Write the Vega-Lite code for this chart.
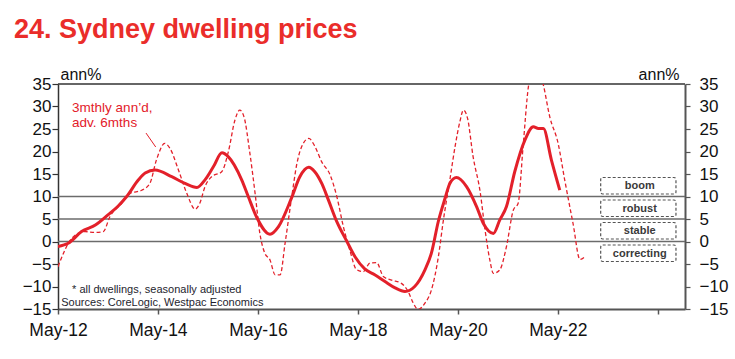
{
  "$schema": "https://vega.github.io/schema/vega-lite/v6.json",
  "width": 627,
  "height": 225,
  "autosize": {"type": "none"},
  "padding": {"left": 58, "top": 84, "right": 50, "bottom": 50},
  "background": "white",
  "config": {"view": {"stroke": null}, "font": "Liberation Sans"},
  "title": {
    "text": "24. Sydney dwelling prices",
    "anchor": "start",
    "frame": "group",
    "font": "Liberation Sans",
    "fontSize": 27,
    "fontWeight": "bold",
    "color": "#ea2d2a",
    "dx": -44,
    "offset": 0,
    "dy": -22
  },
  "datasets": {
    "hlines": [
      {"value": 35, "kind": "frame"},
      {"value": 10, "kind": "ref"},
      {"value": 5, "kind": "ref"},
      {"value": 0, "kind": "ref"}
    ],
    "regimes": [
      {"label": "boom", "lo": 10, "hi": 15},
      {"label": "robust", "lo": 5, "hi": 10},
      {"label": "stable", "lo": 0, "hi": 5},
      {"label": "correcting", "lo": -5, "hi": 0}
    ],
    "prices": [
      {"date": "2012-05-01", "series": "annual", "value": -1.1},
      {"date": "2012-07-15", "series": "annual", "value": -0.4},
      {"date": "2012-10-20", "series": "annual", "value": 2.2},
      {"date": "2013-02-01", "series": "annual", "value": 3.7},
      {"date": "2013-05-01", "series": "annual", "value": 5.9},
      {"date": "2013-07-15", "series": "annual", "value": 7.9},
      {"date": "2013-09-15", "series": "annual", "value": 10.0},
      {"date": "2013-12-10", "series": "annual", "value": 13.7},
      {"date": "2014-01-28", "series": "annual", "value": 15.2},
      {"date": "2014-04-10", "series": "annual", "value": 15.9},
      {"date": "2014-08-10", "series": "annual", "value": 14.4},
      {"date": "2014-11-15", "series": "annual", "value": 12.9},
      {"date": "2015-02-10", "series": "annual", "value": 12.0},
      {"date": "2015-04-10", "series": "annual", "value": 13.7},
      {"date": "2015-06-10", "series": "annual", "value": 16.6},
      {"date": "2015-08-12", "series": "annual", "value": 19.7},
      {"date": "2015-09-28", "series": "annual", "value": 18.8},
      {"date": "2016-01-03", "series": "annual", "value": 13.7},
      {"date": "2016-02-20", "series": "annual", "value": 10.0},
      {"date": "2016-04-20", "series": "annual", "value": 5.5},
      {"date": "2016-07-28", "series": "annual", "value": 1.6},
      {"date": "2016-09-28", "series": "annual", "value": 3.3},
      {"date": "2017-01-03", "series": "annual", "value": 9.8},
      {"date": "2017-03-03", "series": "annual", "value": 14.4},
      {"date": "2017-05-07", "series": "annual", "value": 16.5},
      {"date": "2017-06-20", "series": "annual", "value": 15.5},
      {"date": "2017-08-10", "series": "annual", "value": 12.9},
      {"date": "2017-09-28", "series": "annual", "value": 9.2},
      {"date": "2017-11-28", "series": "annual", "value": 4.4},
      {"date": "2018-02-10", "series": "annual", "value": 0.0},
      {"date": "2018-04-10", "series": "annual", "value": -3.4},
      {"date": "2018-06-20", "series": "annual", "value": -6.1},
      {"date": "2018-09-01", "series": "annual", "value": -7.4},
      {"date": "2018-11-15", "series": "annual", "value": -8.9},
      {"date": "2019-01-28", "series": "annual", "value": -10.3},
      {"date": "2019-04-10", "series": "annual", "value": -11.1},
      {"date": "2019-06-20", "series": "annual", "value": -10.0},
      {"date": "2019-09-03", "series": "annual", "value": -6.3},
      {"date": "2019-10-20", "series": "annual", "value": -2.6},
      {"date": "2019-12-10", "series": "annual", "value": 4.5},
      {"date": "2020-01-28", "series": "annual", "value": 9.6},
      {"date": "2020-03-03", "series": "annual", "value": 12.9},
      {"date": "2020-04-20", "series": "annual", "value": 14.2},
      {"date": "2020-07-03", "series": "annual", "value": 12.2},
      {"date": "2020-09-15", "series": "annual", "value": 7.7},
      {"date": "2020-11-03", "series": "annual", "value": 4.0},
      {"date": "2021-01-15", "series": "annual", "value": 1.8},
      {"date": "2021-03-03", "series": "annual", "value": 4.8},
      {"date": "2021-04-20", "series": "annual", "value": 7.7},
      {"date": "2021-06-20", "series": "annual", "value": 15.5},
      {"date": "2021-09-03", "series": "annual", "value": 22.6},
      {"date": "2021-11-03", "series": "annual", "value": 25.5},
      {"date": "2021-12-10", "series": "annual", "value": 25.1},
      {"date": "2022-01-15", "series": "annual", "value": 25.1},
      {"date": "2022-03-15", "series": "annual", "value": 18.1},
      {"date": "2022-05-15", "series": "annual", "value": 11.4},
      {"date": "2012-05-01", "series": "3m", "value": -5.6},
      {"date": "2012-06-10", "series": "3m", "value": -2.6},
      {"date": "2012-07-15", "series": "3m", "value": -0.4},
      {"date": "2012-09-03", "series": "3m", "value": 1.4},
      {"date": "2012-11-15", "series": "3m", "value": 2.2},
      {"date": "2013-01-28", "series": "3m", "value": 2.0},
      {"date": "2013-03-28", "series": "3m", "value": 2.2},
      {"date": "2013-05-15", "series": "3m", "value": 5.5},
      {"date": "2013-08-10", "series": "3m", "value": 8.5},
      {"date": "2013-10-10", "series": "3m", "value": 10.7},
      {"date": "2014-01-03", "series": "3m", "value": 11.4},
      {"date": "2014-03-03", "series": "3m", "value": 12.9},
      {"date": "2014-04-20", "series": "3m", "value": 18.1},
      {"date": "2014-06-20", "series": "3m", "value": 21.8},
      {"date": "2014-07-28", "series": "3m", "value": 20.7},
      {"date": "2014-09-28", "series": "3m", "value": 15.9},
      {"date": "2014-11-28", "series": "3m", "value": 10.7},
      {"date": "2015-01-28", "series": "3m", "value": 7.2},
      {"date": "2015-03-03", "series": "3m", "value": 8.5},
      {"date": "2015-04-10", "series": "3m", "value": 12.2},
      {"date": "2015-05-28", "series": "3m", "value": 14.4},
      {"date": "2015-08-10", "series": "3m", "value": 15.5},
      {"date": "2015-09-28", "series": "3m", "value": 20.0},
      {"date": "2015-11-15", "series": "3m", "value": 27.0},
      {"date": "2015-12-20", "series": "3m", "value": 29.2},
      {"date": "2016-01-20", "series": "3m", "value": 27.7},
      {"date": "2016-03-03", "series": "3m", "value": 19.6},
      {"date": "2016-04-10", "series": "3m", "value": 10.7},
      {"date": "2016-05-15", "series": "3m", "value": 1.8},
      {"date": "2016-06-20", "series": "3m", "value": -2.6},
      {"date": "2016-07-28", "series": "3m", "value": -4.1},
      {"date": "2016-09-03", "series": "3m", "value": -7.4},
      {"date": "2016-10-10", "series": "3m", "value": -7.4},
      {"date": "2016-11-15", "series": "3m", "value": -0.4},
      {"date": "2017-01-03", "series": "3m", "value": 10.0},
      {"date": "2017-02-10", "series": "3m", "value": 17.4},
      {"date": "2017-03-28", "series": "3m", "value": 21.8},
      {"date": "2017-05-07", "series": "3m", "value": 22.9},
      {"date": "2017-06-20", "series": "3m", "value": 21.2},
      {"date": "2017-08-10", "series": "3m", "value": 17.7},
      {"date": "2017-10-10", "series": "3m", "value": 14.8},
      {"date": "2017-11-28", "series": "3m", "value": 10.0},
      {"date": "2018-01-15", "series": "3m", "value": 3.3},
      {"date": "2018-03-03", "series": "3m", "value": -1.9},
      {"date": "2018-04-20", "series": "3m", "value": -6.2},
      {"date": "2018-06-10", "series": "3m", "value": -6.7},
      {"date": "2018-07-28", "series": "3m", "value": -4.8},
      {"date": "2018-09-15", "series": "3m", "value": -4.7},
      {"date": "2018-11-03", "series": "3m", "value": -7.8},
      {"date": "2019-01-03", "series": "3m", "value": -8.6},
      {"date": "2019-03-15", "series": "3m", "value": -9.3},
      {"date": "2019-05-03", "series": "3m", "value": -11.1},
      {"date": "2019-06-10", "series": "3m", "value": -13.7},
      {"date": "2019-07-15", "series": "3m", "value": -15.1},
      {"date": "2019-09-03", "series": "3m", "value": -13.7},
      {"date": "2019-10-20", "series": "3m", "value": -10.8},
      {"date": "2019-12-10", "series": "3m", "value": -3.4},
      {"date": "2020-01-15", "series": "3m", "value": 4.6},
      {"date": "2020-03-03", "series": "3m", "value": 13.7},
      {"date": "2020-04-10", "series": "3m", "value": 21.1},
      {"date": "2020-05-15", "series": "3m", "value": 26.6},
      {"date": "2020-06-10", "series": "3m", "value": 29.2},
      {"date": "2020-07-10", "series": "3m", "value": 27.4},
      {"date": "2020-08-20", "series": "3m", "value": 18.8},
      {"date": "2020-10-10", "series": "3m", "value": 11.1},
      {"date": "2020-11-15", "series": "3m", "value": 2.6},
      {"date": "2020-12-20", "series": "3m", "value": -4.1},
      {"date": "2021-01-15", "series": "3m", "value": -7.1},
      {"date": "2021-03-03", "series": "3m", "value": -6.3},
      {"date": "2021-04-20", "series": "3m", "value": -1.2},
      {"date": "2021-06-10", "series": "3m", "value": 7.0},
      {"date": "2021-07-15", "series": "3m", "value": 8.5},
      {"date": "2021-08-20", "series": "3m", "value": 21.1},
      {"date": "2021-09-28", "series": "3m", "value": 34.4},
      {"date": "2021-11-20", "series": "3m", "value": 40.0},
      {"date": "2022-01-15", "series": "3m", "value": 34.8},
      {"date": "2022-03-03", "series": "3m", "value": 27.7},
      {"date": "2022-05-03", "series": "3m", "value": 21.8},
      {"date": "2022-06-20", "series": "3m", "value": 13.7},
      {"date": "2022-08-20", "series": "3m", "value": 4.0},
      {"date": "2022-10-10", "series": "3m", "value": -4.0},
      {"date": "2022-11-15", "series": "3m", "value": -3.4}
    ]
  },
  "layer": [
    {
      "data": {"name": "hlines"},
      "mark": {"type": "rule", "strokeWidth": 1.5},
      "encoding": {
        "y": {
          "field": "value",
          "type": "quantitative",
          "scale": {"domain": [-15, 35], "nice": false, "zero": false},
          "axis": {
            "orient": "left",
            "values": [-15, -10, -5, 0, 5, 10, 15, 20, 25, 30, 35],
            "grid": false,
            "domainColor": "#333333",
            "domainWidth": 1.5,
            "tickColor": "#333333",
            "tickSize": 6,
            "tickWidth": 1.2,
            "labelFontSize": 17,
            "labelColor": "#111111",
            "labelPadding": 1,
            "title": "ann%",
            "titleAngle": 0,
            "titleAlign": "left",
            "titleBaseline": "alphabetic",
            "titleFontSize": 16,
            "titleFontWeight": "normal",
            "titleColor": "#111111",
            "titleX": 2,
            "titleY": -5
          }
        },
        "color": {
          "field": "kind",
          "type": "nominal",
          "scale": {"domain": ["frame", "ref"], "range": ["#333333", "#6b6b6b"]},
          "legend": null
        }
      }
    },
    {
      "data": {"name": "prices"},
      "transform": [{"filter": "datum.series === '3m'"}],
      "mark": {
        "type": "line",
        "color": "#e3202a",
        "strokeWidth": 1.3,
        "strokeDash": [4, 2.5],
        "interpolate": "monotone",
        "clip": true
      },
      "encoding": {
        "x": {
          "field": "date",
          "type": "temporal",
          "scale": {"domain": ["2012-05-01", "2024-11-15"]},
          "axis": {
            "values": ["2012-05-01", "2014-05-01", "2016-05-01", "2018-05-01", "2020-05-01", "2022-05-01", "2024-05-01"],
            "labelExpr": "year(datum.value) >= 2024 ? '' : timeFormat(datum.value, '%b-%y')",
            "grid": false,
            "title": null,
            "domainColor": "#555555",
            "domainWidth": 2,
            "tickColor": "#555555",
            "tickWidth": 1.5,
            "tickSize": 5,
            "labelFontSize": 17.5,
            "labelColor": "#111111",
            "labelPadding": 7,
            "labelFlush": false,
            "labelOverlap": false
          }
        },
        "y": {"field": "value", "type": "quantitative", "axis": null}
      }
    },
    {
      "data": {"name": "prices"},
      "transform": [{"filter": "datum.series === 'annual'"}],
      "mark": {
        "type": "line",
        "color": "#e3202a",
        "strokeWidth": 3,
        "interpolate": "monotone",
        "clip": true
      },
      "encoding": {
        "x": {"field": "date", "type": "temporal"},
        "y": {
          "field": "value",
          "type": "quantitative",
          "axis": {
            "orient": "right",
            "values": [-15, -10, -5, 0, 5, 10, 15, 20, 25, 30, 35],
            "grid": false,
            "domainColor": "#555555",
            "domainWidth": 2,
            "tickColor": "#555555",
            "tickSize": 5,
            "tickWidth": 1.2,
            "labelFontSize": 17,
            "labelColor": "#111111",
            "labelPadding": 9,
            "title": "ann%",
            "titleAngle": 0,
            "titleAlign": "right",
            "titleBaseline": "alphabetic",
            "titleFontSize": 16,
            "titleFontWeight": "normal",
            "titleColor": "#111111",
            "titleX": -6,
            "titleY": -5
          }
        }
      }
    },
    {
      "data": {"name": "regimes"},
      "mark": {
        "type": "rect",
        "fill": "white",
        "stroke": "#555555",
        "strokeWidth": 1.2,
        "strokeDash": [3, 2],
        "cornerRadius": 2,
        "yOffset": 3.5,
        "y2Offset": -2.5
      },
      "encoding": {
        "x": {"datum": {"year": 2023, "month": 3, "date": 10}, "type": "temporal"},
        "x2": {"datum": {"year": 2024, "month": 9, "date": 10}},
        "y": {"field": "hi", "type": "quantitative", "axis": null},
        "y2": {"field": "lo"}
      }
    },
    {
      "data": {"name": "regimes"},
      "transform": [{"calculate": "(datum.lo + datum.hi) / 2", "as": "mid"}],
      "mark": {
        "type": "text",
        "fontSize": 11,
        "fontWeight": "bold",
        "color": "#3a3a3a",
        "align": "center",
        "baseline": "middle",
        "dy": 1
      },
      "encoding": {
        "x": {"datum": {"year": 2023, "month": 12, "date": 20}, "type": "temporal"},
        "y": {"field": "mid", "type": "quantitative", "axis": null},
        "text": {"field": "label"}
      }
    },
    {
      "data": {"values": [{}]},
      "mark": {
        "type": "text",
        "fontSize": 13.5,
        "color": "#e3202a",
        "align": "left",
        "baseline": "alphabetic",
        "lineHeight": 15
      },
      "encoding": {
        "x": {"datum": {"year": 2012, "month": 8, "date": 12}, "type": "temporal"},
        "y": {"datum": 28.8, "type": "quantitative", "axis": null},
        "text": {"value": ["3mthly ann\u2019d,", "adv. 6mths"]}
      }
    },
    {
      "data": {"values": [{}]},
      "mark": {"type": "rule", "color": "#e3202a", "strokeWidth": 1},
      "encoding": {
        "x": {"datum": {"year": 2014, "month": 2, "date": 3}, "type": "temporal"},
        "x2": {"datum": {"year": 2014, "month": 4, "date": 15}},
        "y": {"datum": 24.1, "type": "quantitative", "axis": null},
        "y2": {"datum": 21.0}
      }
    },
    {
      "data": {"values": [{}]},
      "mark": {
        "type": "text",
        "fontSize": 11,
        "color": "#1e1e2e",
        "align": "left",
        "baseline": "middle"
      },
      "encoding": {
        "x": {"datum": {"year": 2012, "month": 8, "date": 12}, "type": "temporal"},
        "y": {"datum": -10.8, "type": "quantitative", "axis": null},
        "text": {"value": "* all dwellings, seasonally adjusted"}
      }
    },
    {
      "data": {"values": [{}]},
      "mark": {
        "type": "text",
        "fontSize": 11,
        "color": "#1e1e2e",
        "align": "left",
        "baseline": "middle"
      },
      "encoding": {
        "x": {"datum": {"year": 2012, "month": 5, "date": 25}, "type": "temporal"},
        "y": {"datum": -13.6, "type": "quantitative", "axis": null},
        "text": {"value": "Sources: CoreLogic, Westpac Economics"}
      }
    }
  ],
  "resolve": {"axis": {"y": "independent"}}
}
